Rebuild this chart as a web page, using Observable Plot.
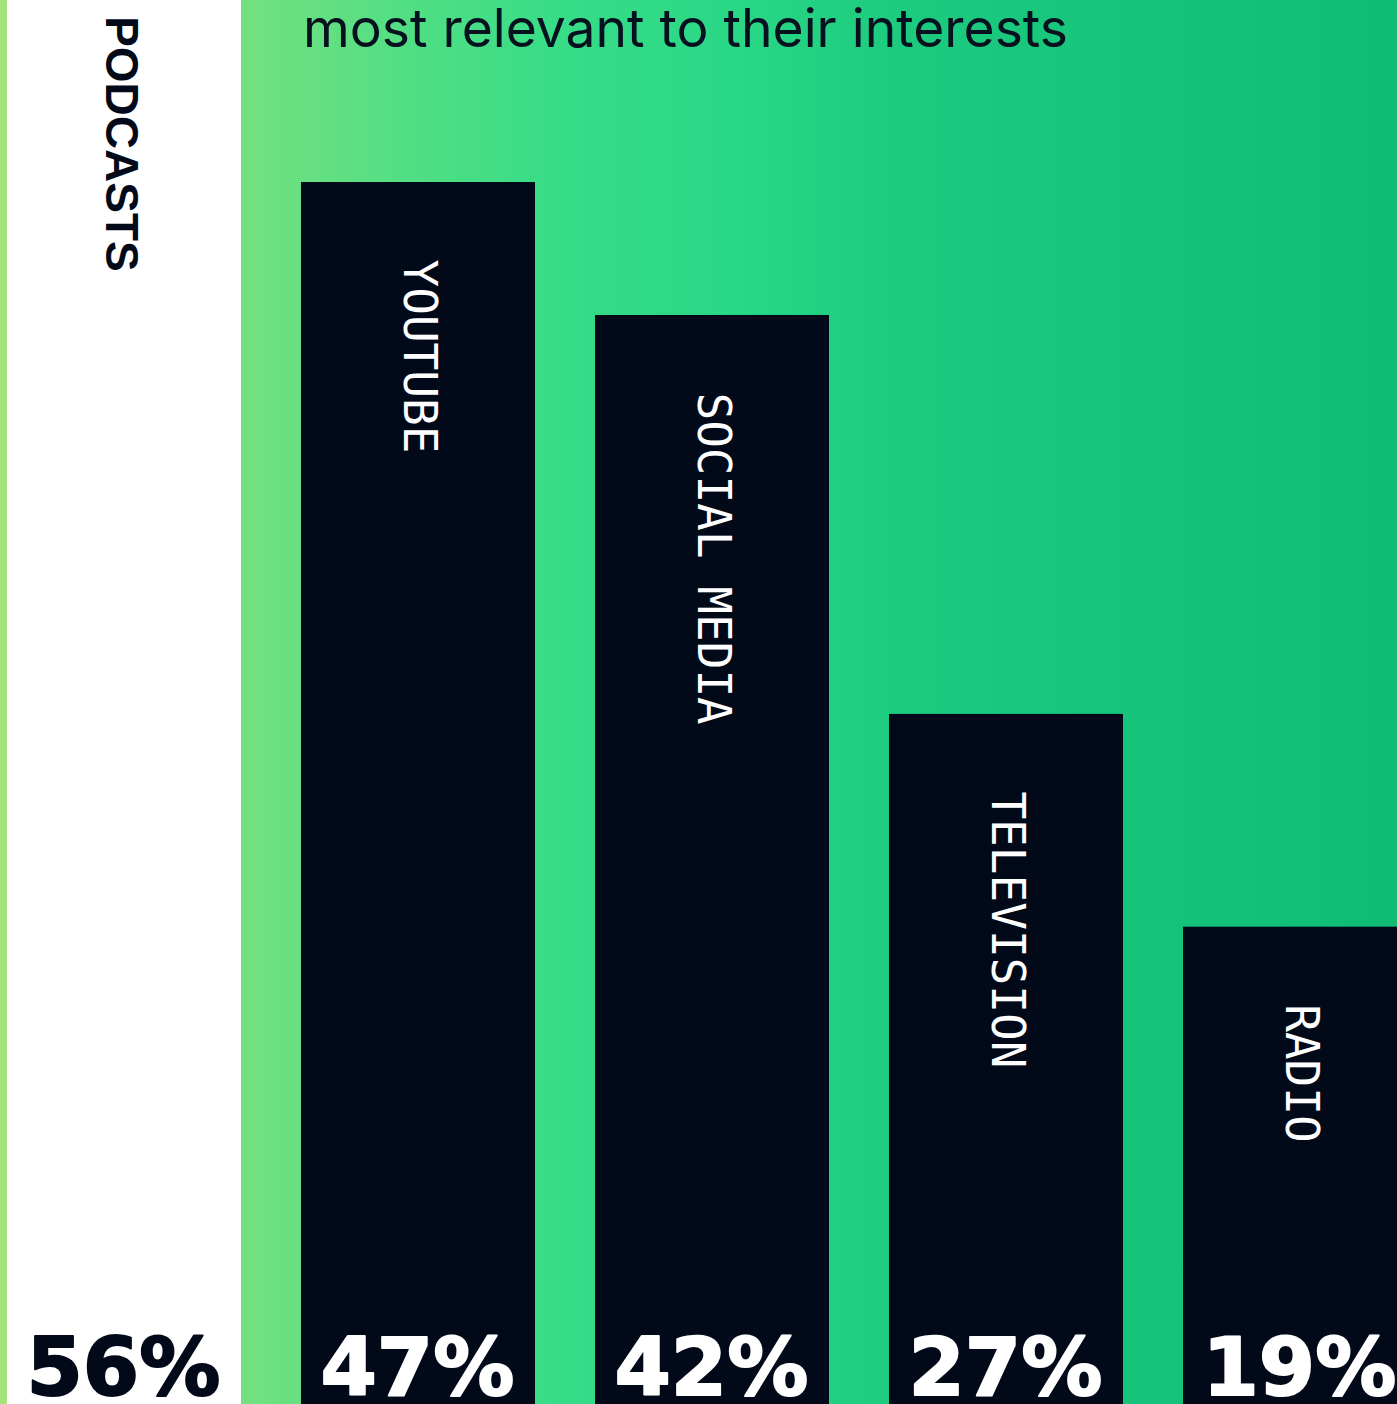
<!DOCTYPE html>
<html>
<head>
<meta charset="utf-8">
<script src="https://cdn.jsdelivr.net/npm/d3@7"></script>
<script src="https://cdn.jsdelivr.net/npm/@observablehq/plot@0.6"></script>
<style>
  html, body { margin: 0; padding: 0; overflow: hidden; background: #ffffff; }
  #wrap {
    position: relative; width: 1397px; height: 1404px; overflow: hidden;
    background: linear-gradient(to right, #a3e37a 0px, #74e07f 241px, #4fde84 420px, #37dc87 560px, #2bd886 720px, #1ccb7e 900px, #15c47a 1150px, #0fbc74 1397px);
  }
  #title {
    position: absolute; left: 303px; top: 1px; margin: 0;
    font-family: Inter, "Noto Sans", sans-serif; font-weight: 400; font-size: 53.4px; line-height: 1;
    color: #07101f; white-space: nowrap;
  }
  #chart { position: absolute; left: 0; top: 0; }
</style>
</head>
<body>
<div id="wrap">
  <div id="chart"></div>
  <h1 id="title">most relevant to their interests</h1>
</div>
<script>
const categories = ["PODCASTS", "YOUTUBE", "SOCIAL MEDIA", "TELEVISION", "RADIO"];
const values = [56, 47, 42, 27, 19];
const percentLabels = ["56%", "47%", "42%", "27%", "19%"];
const highlighted = ["PODCASTS"];

const data = categories.map((c, i) => ({
  category: c,
  value: values[i],
  label: percentLabels[i],
  highlight: highlighted.includes(c)
}));

const DARK = "#020a1a";

const chart = Plot.plot({
  width: 1397,
  height: 1404,
  margin: 0,
  style: { background: "transparent", overflow: "visible" },
  x: { domain: categories, range: [7, 1418], paddingInner: 0.204, paddingOuter: 0, axis: null },
  y: { domain: [0, 47], range: [1432, 182], axis: null },
  color: { type: "identity" },
  marks: [
    Plot.barY(data, { x: "category", y: "value", fill: d => d.highlight ? "#ffffff" : DARK }),
    Plot.text(data, {
      filter: d => d.highlight,
      x: "category", y: "value", text: "category",
      rotate: 90, textAnchor: "start", lineAnchor: "middle", dy: 73, dx: -4,
      fill: DARK, fontFamily: "'Liberation Sans', Arial, sans-serif", fontWeight: 700, fontSize: 46
    }),
    Plot.text(data, {
      filter: d => !d.highlight,
      x: "category", y: "value", text: "category",
      rotate: 90, textAnchor: "start", lineAnchor: "middle", dy: 77,
      fill: "#ffffff", fontFamily: "'DejaVu Sans Mono', monospace", fontWeight: 400, fontSize: 46
    }),
    Plot.text(data, {
      x: "category", text: "label", frameAnchor: "bottom",
      textAnchor: "start", lineAnchor: "bottom", dx: -98, dy: -10,
      fill: d => d.highlight ? DARK : "#ffffff",
      stroke: d => d.highlight ? DARK : "#ffffff", strokeWidth: 2,
      fontFamily: "'DejaVu Sans', sans-serif", fontWeight: 700, fontSize: 81
    })
  ]
});

document.getElementById("chart").appendChild(chart);
</script>
</body>
</html>
